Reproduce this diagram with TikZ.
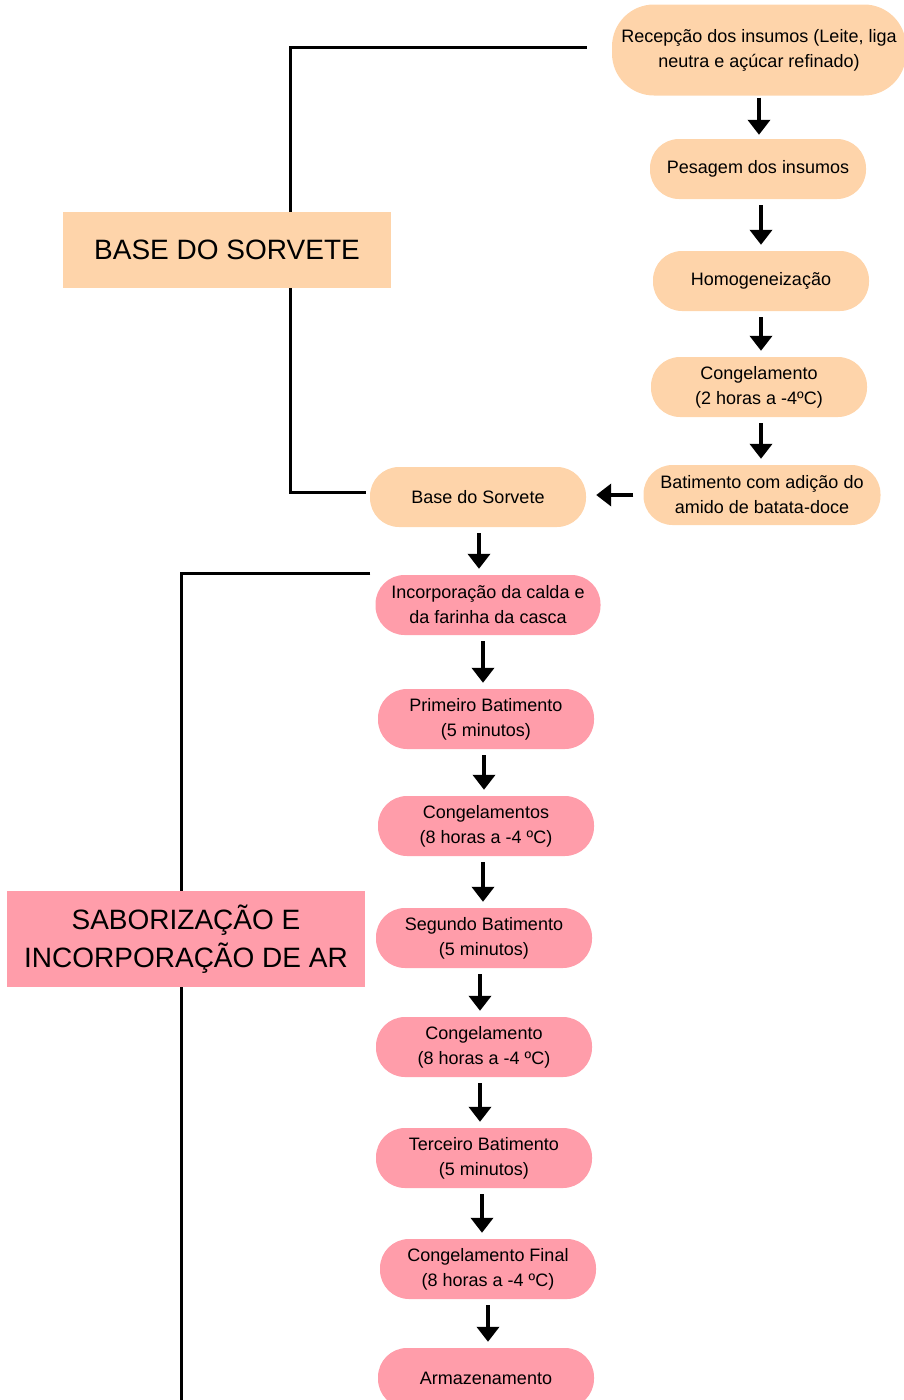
\documentclass[tikz,border=0pt]{standalone}
\usepackage{fontspec}
\setmainfont{Liberation Sans}
\usetikzlibrary{arrows.meta}
\definecolor{peach}{HTML}{FED4AA}
\definecolor{rosa}{HTML}{FF9DAA}

\begin{document}
\begin{tikzpicture}[x=1pt, y=-1pt,
  etapa/.style={rectangle, rounded corners=29pt, minimum width=216pt, minimum height=60pt, inner sep=2pt, align=center, font=\fontsize{18}{25}\selectfont},
  base/.style={etapa, fill=peach},
  sabor/.style={etapa, fill=rosa},
  titulo/.style={rectangle, align=center, font=\fontsize{28}{38}\selectfont},
  seta/.style={line width=4pt, shorten <=6pt, shorten >=6pt, -{Triangle[width=22pt, length=15pt]}},
  chave/.style={line width=3pt}]
  \useasboundingbox (0,0) rectangle (904,1400);

  \node[base, minimum width=294pt, minimum height=91pt, rounded corners=42pt] (recepcao) at (759,50) {Recepção dos insumos (Leite, liga\\neutra e açúcar refinado)};
  \node[base] (pesagem) at (758,169) {Pesagem dos insumos};
  \node[base] (homog) at (761,281) {Homogeneização};
  \node[base] (cong1) at (759,387) {Congelamento\\(2 horas a -4ºC)};
  \node[base, minimum width=237pt] (batimento) at (762,495) {Batimento com adição do\\amido de batata-doce};
  \node[base] (base) at (478,497) {Base do Sorvete};

  \node[sabor, minimum width=225pt] (incorp) at (488,605) {Incorporação da calda e\\da farinha da casca};
  \node[sabor] (bat1) at (486,719) {Primeiro Batimento\\(5 minutos)};
  \node[sabor] (cong2) at (486,826) {Congelamentos\\(8 horas a -4 ºC)};
  \node[sabor] (bat2) at (484,938) {Segundo Batimento\\(5 minutos)};
  \node[sabor] (cong3) at (484,1047) {Congelamento\\(8 horas a -4 ºC)};
  \node[sabor] (bat3) at (484,1158) {Terceiro Batimento\\(5 minutos)};
  \node[sabor] (congf) at (488,1269) {Congelamento Final\\(8 horas a -4 ºC)};
  \node[sabor] (armaz) at (486,1378) {Armazenamento};

  \draw[seta, shorten <=2pt, shorten >=4pt] (recepcao.south) -- (recepcao.south |- pesagem.north);
  \draw[seta] ([xshift=3pt]pesagem.south) -- ([xshift=3pt]pesagem.south |- homog.north);
  \draw[seta] (homog.south) -- (homog.south |- cong1.north);
  \draw[seta] ([xshift=2pt]cong1.south) -- ([xshift=2pt]cong1.south |- batimento.north);
  \draw[seta, shorten <=10pt, shorten >=10pt] (batimento.west) -- (batimento.west -| base.east);
  \draw[seta] ([xshift=1pt]base.south) -- ([xshift=1pt]base.south |- incorp.north);
  \draw[seta] ([xshift=-5pt]incorp.south) -- ([xshift=-5pt]incorp.south |- bat1.north);
  \draw[seta] ([xshift=-2pt]bat1.south) -- ([xshift=-2pt]bat1.south |- cong2.north);
  \draw[seta] ([xshift=-3pt]cong2.south) -- ([xshift=-3pt]cong2.south |- bat2.north);
  \draw[seta] ([xshift=-4pt]bat2.south) -- ([xshift=-4pt]bat2.south |- cong3.north);
  \draw[seta] ([xshift=-4pt]cong3.south) -- ([xshift=-4pt]cong3.south |- bat3.north);
  \draw[seta] ([xshift=-2pt]bat3.south) -- ([xshift=-2pt]bat3.south |- congf.north);
  \draw[seta] (congf.south) -- (congf.south |- armaz.north);

  \coordinate (fim) at (181,1404);
  \draw[chave] ([xshift=-25pt, yshift=3pt]recepcao.west) -| ([xshift=-79pt, yshift=5pt]base.west) -- ([xshift=-4pt, yshift=5pt]base.west);
  \draw[chave] ([xshift=-5pt, yshift=1pt]incorp.north west) -| (fim);

  \node[titulo, fill=peach, minimum width=328pt, minimum height=76pt] (tbase) at (227,250) {BASE DO SORVETE};
  \node[titulo, fill=rosa, minimum width=358pt, minimum height=96pt] (tsabor) at (186,939) {SABORIZAÇÃO E\\INCORPORAÇÃO DE AR};
\end{tikzpicture}
\end{document}
